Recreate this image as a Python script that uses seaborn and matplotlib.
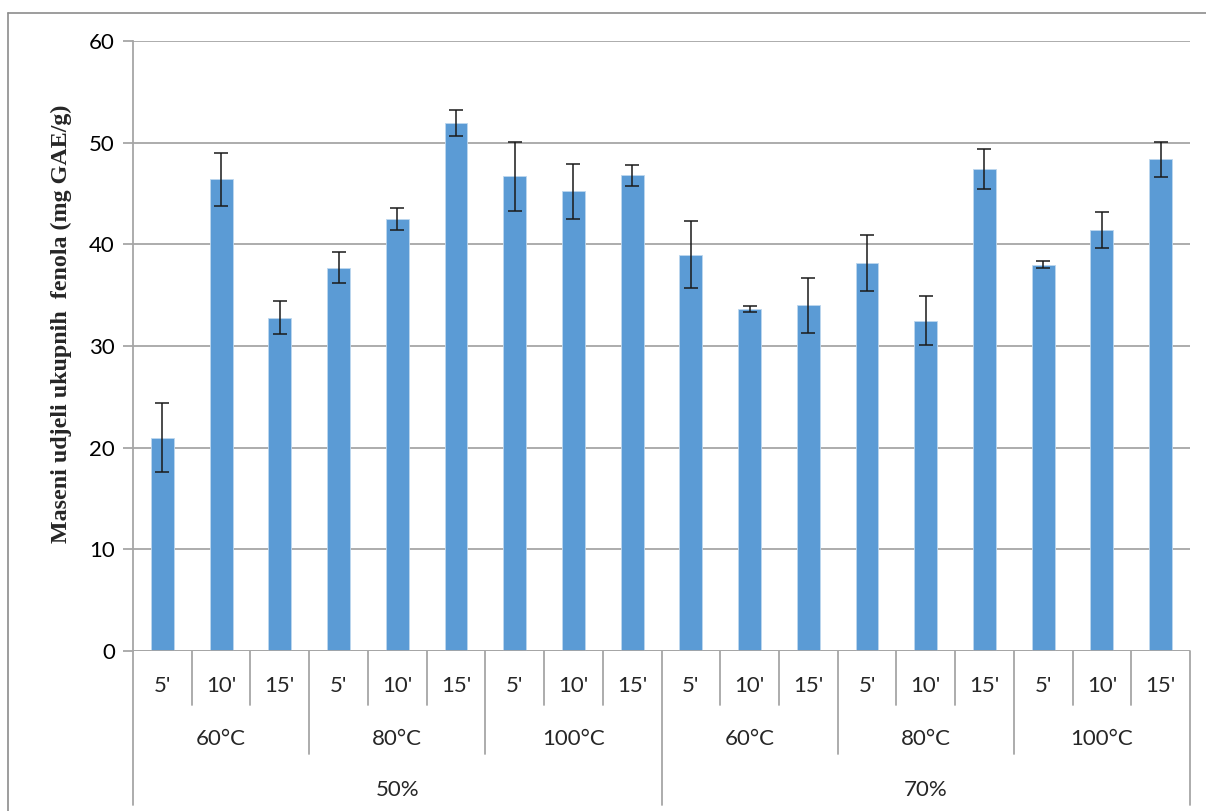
import numpy as np
import pandas as pd
import seaborn as sns
import matplotlib
matplotlib.use("Agg")
from matplotlib import pyplot as plt
import matplotlib.transforms as mtrans
from matplotlib.lines import Line2D

sns.set_theme(style="white")
plt.rcParams['font.family'] = ['Lato', 'DejaVu Sans']

# data
ethanol = ['50%', '70%']
temps = ['60°C', '80°C', '100°C']
times = ["5'", "10'", "15'"]
values = [21.0, 46.4, 32.8, 37.7, 42.5, 51.95, 46.7, 45.2, 46.8,
          39.0, 33.6, 34.0, 38.15, 32.5, 47.4, 38.0, 41.4, 48.35]
errors = [3.4, 2.6, 1.65, 1.5, 1.1, 1.25, 3.4, 2.7, 1.05,
          3.3, 0.3, 2.7, 2.75, 2.4, 2.0, 0.35, 1.8, 1.75]

rows = []
for e in ethanol:
    for t in temps:
        for m in times:
            rows.append((e, t, m))
df = pd.DataFrame(rows, columns=['ethanol', 'temp', 'time'])
df['key'] = df['ethanol'] + '|' + df['temp'] + '|' + df['time']
df['value'] = values
df['err'] = errors

W, H = 1206, 811
fig = plt.figure(figsize=(W / 100, H / 100), dpi=100)
ax = fig.add_axes([133 / W, 1 - 651 / H, (1190 - 133) / W, (651 - 41) / H])

sns.barplot(data=df, x='key', y='value', order=list(df['key']), color='#5B9BD5',
            saturation=1, width=0.39, edgecolor='#BDD7EE', linewidth=0.6,
            errorbar=None, ax=ax)
ax.errorbar(np.arange(len(df)), df['value'], yerr=df['err'], fmt='none',
            ecolor='#1a1a1a', elinewidth=1.1, capsize=5, capthick=1.1, zorder=5)

grid_c = '#A6A6A6'
fs = 16
ax.set_ylim(0, 60)
ax.set_xlim(-0.5, len(df) - 0.5)
ax.set_yticks(range(0, 61, 10))
ax.yaxis.grid(True, color=grid_c, linewidth=1.3)
ax.set_axisbelow(True)
for s in ['top', 'right', 'bottom']:
    ax.spines[s].set_visible(False)
ax.spines['left'].set_color(grid_c)
ax.spines['left'].set_linewidth(1.3)
ax.tick_params(axis='y', direction='out', length=7, width=1.3, color=grid_c,
               labelsize=fs, labelcolor='black', pad=6, left=True)
ax.set_xticks([])
ax.set_xlabel('')
ax.set_ylabel('Maseni udjeli ukupnih  fenola (mg GAE/g)', family='Liberation Serif',
              fontweight='bold', fontsize=17.3, va='center')
ax.yaxis.set_label_coords((61 - 133) / 1057, (651 - 324) / 610)

# bottom axis line and multi-level category axis
ax.axhline(0, color=grid_c, linewidth=1.3, zorder=3)
tr = mtrans.blended_transform_factory(ax.transData, ax.transAxes)
h = 610.0
d1, d2, d3 = -54 / h, -103 / h, -154 / h
n = len(df)
for i in range(n + 1):
    x = i - 0.5
    if i % 9 == 0:
        y1 = d3
    elif i % 3 == 0:
        y1 = d2
    else:
        y1 = d1
    ax.add_line(Line2D([x, x], [0, y1], transform=tr, color=grid_c,
                       linewidth=1.3, clip_on=False))
for i, m in enumerate(df['time']):
    ax.text(i, -35 / h, m, transform=tr, ha='center', va='center', fontsize=fs)
for g in range(6):
    ax.text(g * 3 + 1, -88 / h, df['temp'].iloc[g * 3], transform=tr,
            ha='center', va='center', fontsize=fs)
for g in range(2):
    ax.text(g * 9 + 4, -139 / h, df['ethanol'].iloc[g * 9], transform=tr,
            ha='center', va='center', fontsize=fs)

# outer chart frame (cropped)
fc = '#8C8C8C'
fig.add_artist(Line2D([8 / W, 8 / W], [0, 1 - 13 / H], transform=fig.transFigure,
                      color=fc, linewidth=1.2))
fig.add_artist(Line2D([8 / W, 1], [1 - 13 / H, 1 - 13 / H], transform=fig.transFigure,
                      color=fc, linewidth=1.2))

fig.savefig('out.png', dpi=100)
